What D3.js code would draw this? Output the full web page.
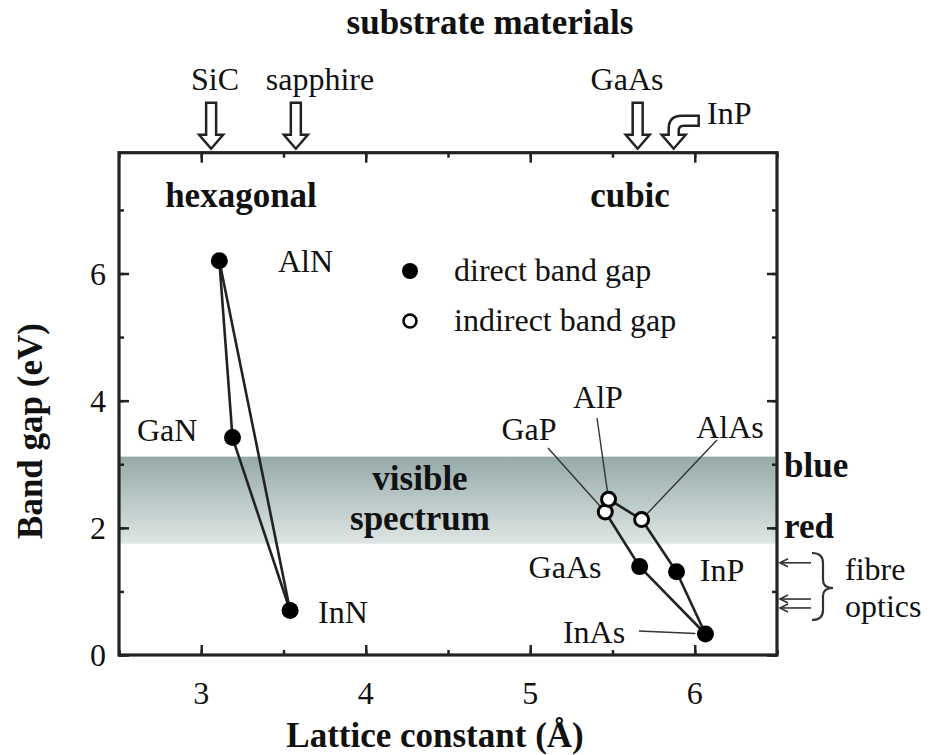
<!DOCTYPE html>
<html>
<head>
<meta charset="utf-8">
<script src="https://cdn.jsdelivr.net/npm/d3@7"></script>
<style>
  html, body { margin: 0; padding: 0; background: #fff; }
  text { font-family: "Liberation Serif", "Times New Roman", serif; fill: #111; }
  .b { font-weight: bold; }
</style>
</head>
<body>
<svg id="chart" width="930" height="755"></svg>
<script>
// Semiconductor band gaps vs lattice constant
const hexNames = ["AlN", "GaN", "InN"];
const hexLattice = [3.11, 3.19, 3.54];
const hexGap = [6.2, 3.42, 0.7];

const cubicNames = ["GaP", "AlP", "AlAs", "GaAs", "InP", "InAs"];
const cubicLattice = [5.456, 5.476, 5.677, 5.665, 5.889, 6.065];
const cubicGap = [2.25, 2.45, 2.13, 1.39, 1.31, 0.33];
const cubicDirect = [false, false, false, true, true, true];

// alloy tie lines (pairs of compound names)
const hexLinks = [["AlN", "GaN"], ["GaN", "InN"], ["InN", "AlN"]];
const cubicLinks = [["GaP", "AlP"], ["AlP", "AlAs"], ["AlAs", "InP"], ["InP", "InAs"], ["GaP", "GaAs"], ["GaAs", "InAs"]];

// substrates
const substrateNames = ["SiC", "sapphire", "GaAs", "InP"];
const substrateLattice = [3.06, 3.575, 5.653, 5.872];

// visible band (eV) and fibre-optic windows (eV)
const visibleBand = [1.75, 3.12];
const fibreWindows = [1.45, 0.88, 0.74];

const xTicks = [3, 4, 5, 6];
const yTicks = [0, 2, 4, 6];

const svg = d3.select("#chart");
const L = 119, R = 777, T = 152.7, B = 655;
const x = d3.scaleLinear().domain([2.5, 6.5]).range([L, R]);
const y = d3.scaleLinear().domain([0, 7.9]).range([B, T]);
const FS = 32;   // regular labels
const FB = 35;   // bold headings and titles

// visible spectrum band
const defs = svg.append("defs");
const grad = defs.append("linearGradient").attr("id", "vis").attr("x1", 0).attr("y1", 0).attr("x2", 0).attr("y2", 1);
grad.append("stop").attr("offset", "0%").attr("stop-color", "#95aaa8");
grad.append("stop").attr("offset", "100%").attr("stop-color", "#dee6e5");
svg.append("rect")
  .attr("x", L).attr("width", R - L)
  .attr("y", y(visibleBand[1])).attr("height", y(visibleBand[0]) - y(visibleBand[1]))
  .attr("fill", "url(#vis)");

// axes with inward ticks on all four sides
const tickStroke = g => g.selectAll("line").attr("stroke", "#222").attr("stroke-width", 2.5);
function frameAxes() {
  const xMinor = d3.range(2.5, 6.51, 0.5);
  const yMinor = d3.range(0, 7.9, 1);
  const sets = [
    [xMinor, yMinor, 5],
    [xTicks, yTicks, 10]
  ];
  sets.forEach(([xv, yv, len]) => {
    const axes = [
      [d3.axisBottom(x).tickValues(xv), `translate(0,${B})`],
      [d3.axisTop(x).tickValues(xv), `translate(0,${T})`],
      [d3.axisLeft(y).tickValues(yv), `translate(${L},0)`],
      [d3.axisRight(y).tickValues(yv), `translate(${R},0)`]
    ];
    axes.forEach(([ax, tr]) => {
      const g = svg.append("g").attr("transform", tr).call(ax.tickSize(-len).tickFormat(""));
      g.select(".domain").remove();
      tickStroke(g);
    });
  });
}
frameAxes();

svg.append("rect").attr("x", L).attr("y", T).attr("width", R - L).attr("height", B - T)
  .attr("fill", "none").attr("stroke", "#222").attr("stroke-width", 3.2);

// tick labels
svg.append("g").selectAll("text").data(xTicks).join("text")
  .attr("x", d => x(d)).attr("y", B + 49).attr("text-anchor", "middle")
  .attr("font-size", FS).text(d => d);
svg.append("g").selectAll("text").data(yTicks).join("text")
  .attr("x", L - 13).attr("y", d => y(d) + 11).attr("text-anchor", "end")
  .attr("font-size", FS).text(d => d);

// axis titles
svg.append("text").attr("class", "b").attr("x", 435).attr("y", 747)
  .attr("text-anchor", "middle").attr("font-size", FB).text("Lattice constant (Å)");
svg.append("text").attr("class", "b")
  .attr("transform", `translate(42,${431}) rotate(-90)`)
  .attr("text-anchor", "middle").attr("font-size", FB).text("Band gap (eV)");

// substrate arrows
svg.append("text").attr("class", "b").attr("x", 490).attr("y", 34)
  .attr("text-anchor", "middle").attr("font-size", FB).text("substrate materials");
const straightArrow = "M0,0 L-12,-14 L-5,-14 L-5,-46 L5,-46 L5,-14 L12,-14 Z";
const bentArrow = "M0,0 L-12,-14 L-5,-14 L-5,-20 Q-5,-33 8,-33 L25,-33 L25,-23 L10,-23 Q5,-23 5,-18 L5,-14 L12,-14 Z";
substrateNames.forEach((n, i) => {
  svg.append("path")
    .attr("d", n === "InP" ? bentArrow : straightArrow)
    .attr("transform", `translate(${x(substrateLattice[i])},${T - 4})`)
    .attr("fill", "#fff").attr("stroke", "#222").attr("stroke-width", 2.5)
    .attr("stroke-linejoin", "miter");
});
const subLabelPos = { "SiC": [215, 90, "middle"], "sapphire": [320, 90, "middle"], "GaAs": [627, 90, "middle"], "InP": [707, 124, "start"] };
substrateNames.forEach(n => {
  const p = subLabelPos[n];
  svg.append("text").attr("x", p[0]).attr("y", p[1]).attr("text-anchor", p[2])
    .attr("font-size", FS).text(n);
});

// group headings
svg.append("text").attr("class", "b").attr("x", 241).attr("y", 207)
  .attr("text-anchor", "middle").attr("font-size", FB).text("hexagonal");
svg.append("text").attr("class", "b").attr("x", 630).attr("y", 207)
  .attr("text-anchor", "middle").attr("font-size", FB).text("cubic");

// visible spectrum labels
svg.append("text").attr("class", "b").attr("x", 420).attr("y", 490)
  .attr("text-anchor", "middle").attr("font-size", FB).text("visible");
svg.append("text").attr("class", "b").attr("x", 420).attr("y", 530)
  .attr("text-anchor", "middle").attr("font-size", FB).text("spectrum");
svg.append("text").attr("class", "b").attr("x", 784).attr("y", y(visibleBand[1]) + 20)
  .attr("font-size", FB).text("blue");
svg.append("text").attr("class", "b").attr("x", 784).attr("y", y(visibleBand[0]) - 6)
  .attr("font-size", FB).text("red");

// data lookup
const pts = {};
hexNames.forEach((n, i) => pts[n] = { a: hexLattice[i], e: hexGap[i], direct: true });
cubicNames.forEach((n, i) => pts[n] = { a: cubicLattice[i], e: cubicGap[i], direct: cubicDirect[i] });

// tie lines
const lineG = svg.append("g").attr("stroke", "#222").attr("stroke-width", 2.6).attr("fill", "none");
hexLinks.concat(cubicLinks).forEach(([p, q]) => {
  lineG.append("line")
    .attr("x1", x(pts[p].a)).attr("y1", y(pts[p].e))
    .attr("x2", x(pts[q].a)).attr("y2", y(pts[q].e));
});

// leader lines for crowded labels: [name, label x, label y, anchor, leader start x, leader start y]
const leaders = [
  ["GaP", 529, 440, "middle", 548, 448],
  ["AlP", 598, 408, "middle", 597, 418],
  ["AlAs", 730, 438, "middle", 717, 440],
  ["InAs", 594, 643, "middle", 639, 631]
];
leaders.forEach(([n, lx, ly, anc, sx, sy]) => {
  const px = x(pts[n].a), py = y(pts[n].e);
  const dx = px - sx, dy = py - sy, len = Math.hypot(dx, dy);
  const gap = pts[n].direct ? 10 : 8;
  svg.append("line").attr("x1", sx).attr("y1", sy)
    .attr("x2", px - dx / len * gap).attr("y2", py - dy / len * gap)
    .attr("stroke", "#333").attr("stroke-width", 1.4);
  svg.append("text").attr("x", lx).attr("y", ly).attr("text-anchor", anc)
    .attr("font-size", FS).text(n);
});

// directly placed labels
const directLabels = [
  ["AlN", 278, 272, "start"],
  ["GaN", 137, 441, "start"],
  ["InN", 318, 623, "start"],
  ["GaAs", 565, 578, "middle"],
  ["InP", 722, 581, "middle"]
];
directLabels.forEach(([n, lx, ly, anc]) => {
  svg.append("text").attr("x", lx).attr("y", ly).attr("text-anchor", anc)
    .attr("font-size", FS).text(n);
});

// markers
const allNames = hexNames.concat(cubicNames);
svg.append("g").selectAll("circle").data(allNames).join("circle")
  .attr("cx", n => x(pts[n].a)).attr("cy", n => y(pts[n].e))
  .attr("r", n => pts[n].direct ? 8.5 : 7)
  .attr("fill", n => pts[n].direct ? "#000" : "#fff")
  .attr("stroke", "#000").attr("stroke-width", n => pts[n].direct ? 0 : 3);

// legend
const legend = [["direct band gap", true, 271], ["indirect band gap", false, 321]];
legend.forEach(([t, dir, ly]) => {
  svg.append("circle").attr("cx", 410).attr("cy", ly).attr("r", dir ? 8 : 6.5)
    .attr("fill", dir ? "#000" : "#fff").attr("stroke", "#000").attr("stroke-width", dir ? 0 : 2.5);
  svg.append("text").attr("x", 454).attr("y", ly + 10).attr("font-size", FS).text(t);
});

// fibre-optic windows
const fibre = svg.append("g").attr("stroke", "#333").attr("stroke-width", 1.6).attr("fill", "none");
fibreWindows.forEach(e => {
  const yy = y(e);
  fibre.append("line").attr("x1", R + 3).attr("y1", yy).attr("x2", 811).attr("y2", yy);
  fibre.append("path").attr("d", `M${R + 11},${yy - 4} L${R + 3},${yy} L${R + 11},${yy + 4}`);
});
const bTop = 553, bBot = 620, bMid = 588, bx = 812;
fibre.append("path").attr("stroke-width", 2.2)
  .attr("d", `M${bx},${bTop} Q${bx + 11},${bTop} ${bx + 11},${bTop + 10} L${bx + 11},${bMid - 8} Q${bx + 11},${bMid} ${bx + 21},${bMid} Q${bx + 11},${bMid} ${bx + 11},${bMid + 8} L${bx + 11},${bBot - 10} Q${bx + 11},${bBot} ${bx},${bBot}`);
svg.append("text").attr("x", 845).attr("y", 580).attr("font-size", FS).text("fibre");
svg.append("text").attr("x", 845).attr("y", 617).attr("font-size", FS).text("optics");
</script>
</body>
</html>
